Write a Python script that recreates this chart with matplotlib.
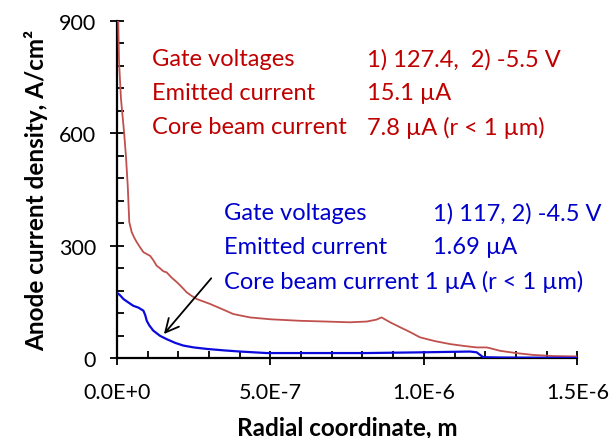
import matplotlib.pyplot as plt
from matplotlib.ticker import FixedLocator, MultipleLocator, FuncFormatter

plt.rcParams['font.family'] = ['Lato', 'DejaVu Sans']

# red curve (1) 127.4, 2) -5.5 V)
r_red = [0.0, 0.004, 0.0065, 0.013, 0.023, 0.029, 0.035, 0.040, 0.048, 0.056, 0.064,
         0.075, 0.086, 0.097, 0.108, 0.118, 0.129, 0.140, 0.151, 0.162, 0.178,
         0.195, 0.211, 0.227, 0.244, 0.260, 0.280, 0.303, 0.340, 0.379, 0.433,
         0.500, 0.596, 0.680, 0.759, 0.814, 0.845, 0.862, 0.890, 0.922, 0.955,
         0.987, 1.035, 1.085, 1.130, 1.172, 1.205, 1.225, 1.248, 1.300, 1.356,
         1.420, 1.498]
j_red = [900, 900, 793, 691, 603, 540, 460, 363, 336, 322, 310,
         296, 283, 278, 273, 262, 247, 240, 232, 229, 215,
         203, 190, 176, 166, 158, 152, 145, 132, 118, 109,
         104, 100, 98, 96, 98, 103, 109, 96, 83, 70,
         56, 46, 38, 33, 29, 29, 25, 20, 14, 9,
         6, 5]

# blue curve (1) 117, 2) -4.5 V)
r_blue = [0.0, 0.010, 0.021, 0.035, 0.053, 0.070, 0.086, 0.092, 0.097, 0.105,
          0.118, 0.140, 0.162, 0.190, 0.216, 0.250, 0.293, 0.350, 0.401, 0.488,
          0.600, 0.814, 1.000, 1.150, 1.172, 1.193, 1.250, 1.498]
j_blue = [175, 168, 158, 150, 140, 135, 127, 115, 100, 88,
          74, 60, 51, 41, 34, 29, 25, 21, 18, 14,
          14, 14, 16, 18, 16, 3, 2, 1]

x_ticks = [0, 0.5e-6, 1.0e-6, 1.5e-6]
x_tick_labels = ['0.0E+0', '5.0E-7', '1.0E-6', '1.5E-6']
y_ticks = [0, 300, 600, 900]

red_txt = '#C00000'
blue_txt = '#0000CC'

fig = plt.figure(figsize=(6.1, 4.39), dpi=100)
W, H = 610, 439
ax = fig.add_axes([117 / W, 1 - 359.3 / H, (577.3 - 117) / W, (359.3 - 21.7) / H])

ax.plot([v * 1e-6 for v in r_red], j_red, color='#C0504D', lw=1.3, zorder=3)
ax.plot([v * 1e-6 for v in r_blue], j_blue, color='#0A0ADC', lw=1.6, zorder=3)

ax.set_xlim(0, 1.5e-6)
ax.set_ylim(0, 900)
ax.xaxis.set_major_locator(FixedLocator(x_ticks))
ax.xaxis.set_major_formatter(FuncFormatter(lambda v, p: x_tick_labels[p] if p is not None and p < len(x_tick_labels) else ''))
ax.xaxis.set_minor_locator(MultipleLocator(1e-7))
ax.yaxis.set_major_locator(FixedLocator(y_ticks))
ax.yaxis.set_minor_locator(MultipleLocator(60))

for s in ['top', 'right']:
    ax.spines[s].set_visible(False)
for s in ['left', 'bottom']:
    ax.spines[s].set_linewidth(1.6)
    ax.spines[s].set_color('black')

ax.tick_params(which='major', direction='inout', length=10, width=1.3, labelsize=15.5)
ax.tick_params(which='minor', direction='in', length=5, width=1.3)
ax.tick_params(axis='x', which='major', pad=12)
ax.tick_params(axis='y', which='major', pad=10)

ax.set_xlabel('Radial coordinate, m', fontsize=17.5, fontweight='bold', labelpad=10)
ax.set_ylabel('Anode current density, A/cm²', fontsize=17.5, fontweight='bold', labelpad=8)

# annotation blocks
fs = 17
def t(x, y, s, c):
    fig.text(x / W, 1 - y / H, s, color=c, fontsize=fs, va='center', ha='left')

t(152, 60, 'Gate voltages', red_txt)
t(367, 60, '1) 127.4,  2) -5.5 V', red_txt)
t(152, 94, 'Emitted current', red_txt)
t(367, 94, '15.1 µA', red_txt)
t(152, 128, 'Core beam current', red_txt)
t(367, 128, '7.8 µA (r < 1 µm)', red_txt)

t(224, 214, 'Gate voltages', blue_txt)
t(433, 214, '1) 117, 2) -4.5 V', blue_txt)
t(224, 248, 'Emitted current', blue_txt)
t(433, 248, '1.69 µA', blue_txt)
t(224, 282, 'Core beam current 1 µA (r < 1 µm)', blue_txt)

ax.annotate('', xy=(0.147e-6, 59), xytext=(0.313e-6, 219),
            arrowprops=dict(arrowstyle='->', color='black', lw=1.3, mutation_scale=24))

fig.savefig('out.png', dpi=100)
